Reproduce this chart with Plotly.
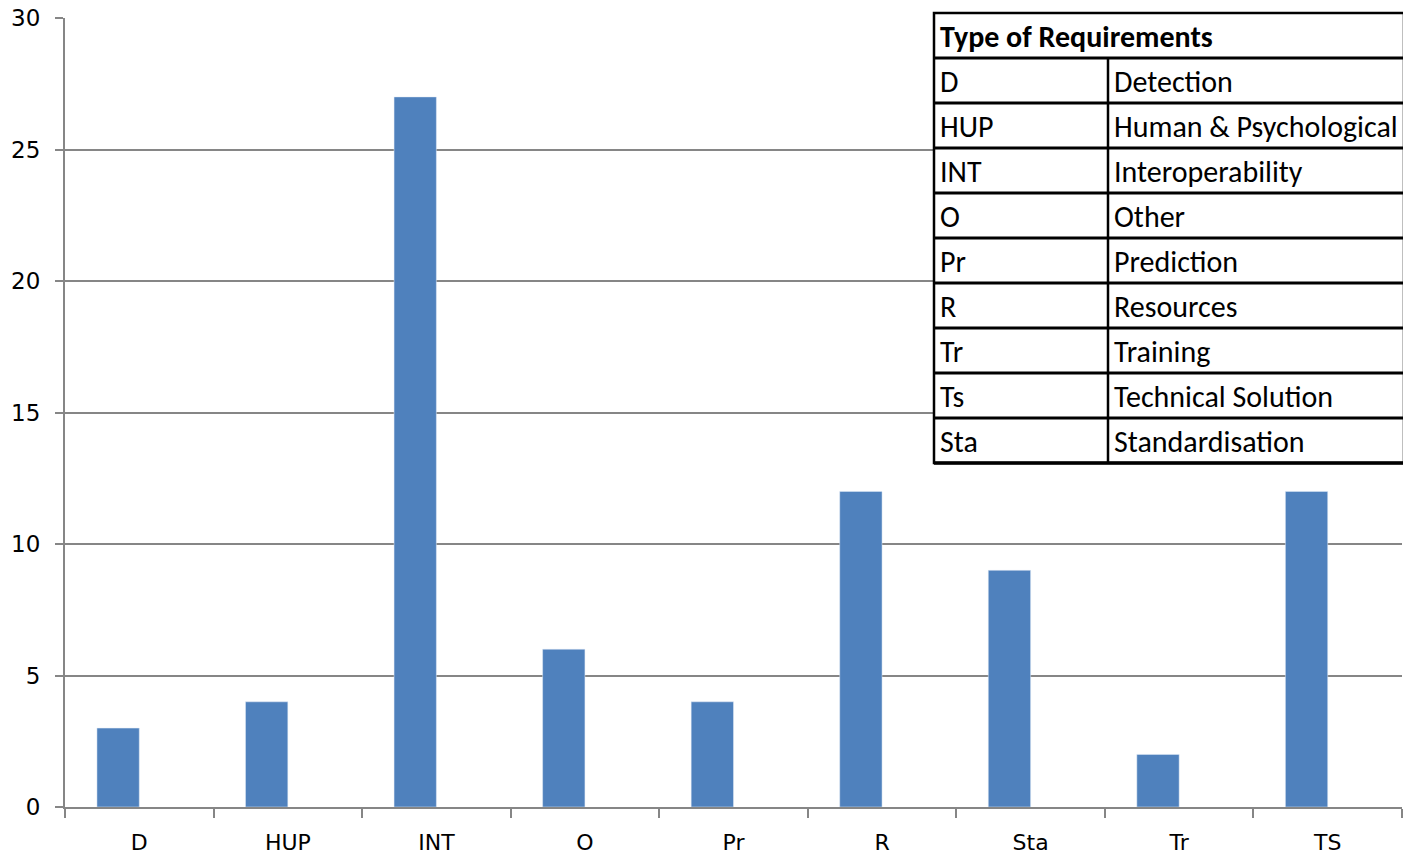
import plotly.graph_objects as go

categories = ["D", "HUP", "INT", "O", "Pr", "R", "Sta", "Tr", "TS"]
counts = [3, 4, 27, 6, 4, 12, 9, 2, 12]
empty_series = [None] * len(categories)

table_title = "Type of Requirements"
table_codes = ["D", "HUP", "INT", "O", "Pr", "R", "Tr", "Ts", "Sta"]
table_names = ["Detection", "Human & Psychological", "Interoperability", "Other",
               "Prediction", "Resources", "Training", "Technical Solution", "Standardisation"]

W, H = 1403, 854
L, R, T, B = 65, 1402, 18, 807
pw, ph = R - L, B - T


def px(x):
    return (x - L) / pw


def py(y):
    return (B - y) / ph


fig = go.Figure()
fig.add_trace(go.Bar(x=categories, y=counts, marker_color="#4F81BD", showlegend=False,
                     hoverinfo="x+y"))
fig.add_trace(go.Bar(x=categories, y=empty_series, marker_color="#C0504D", showlegend=False))

fig.update_layout(
    width=W, height=H,
    margin=dict(l=L, r=W - R, t=T, b=H - B, pad=0, autoexpand=False),
    paper_bgcolor="white", plot_bgcolor="white",
    barmode="group", bargap=0.43, bargroupgap=0,
    font=dict(family="DejaVu Sans", size=20, color="black"),
)
fig.update_xaxes(type="category", showline=True, linecolor="#868686", linewidth=2,
                 ticks="outside", tickson="boundaries", ticklen=9, tickcolor="#868686",
                 tickwidth=2, showgrid=False, tickfont=dict(size=22), ticklabelstandoff=15,
                 automargin=False)
fig.update_yaxes(range=[0, 30], dtick=5, showline=True, linecolor="#868686", linewidth=2,
                 ticks="outside", ticklen=8, tickcolor="#868686", tickwidth=2,
                 showgrid=True, gridcolor="#868686", gridwidth=1.5, zeroline=False,
                 tickfont=dict(size=23), ticklabelstandoff=10, automargin=False)

# table
tl, tr, tt = 934, 1404, 13
row_h = 45
ncols_x = 1108
nrows = len(table_codes) + 1
tb = tt + row_h * nrows
shapes = []
shapes.append(dict(type="rect", xref="paper", yref="paper", x0=px(tl), x1=px(tr),
                   y0=py(tb), y1=py(tt), fillcolor="white", line=dict(color="black", width=2.5),
                   layer="above"))
for i in range(1, nrows):
    y = tt + row_h * i
    shapes.append(dict(type="line", xref="paper", yref="paper", x0=px(tl), x1=px(tr),
                       y0=py(y), y1=py(y), line=dict(color="black", width=3), layer="above"))
shapes.append(dict(type="line", xref="paper", yref="paper", x0=px(ncols_x), x1=px(ncols_x),
                   y0=py(tb), y1=py(tt + row_h), line=dict(color="black", width=2.5), layer="above"))
shapes.append(dict(type="line", xref="paper", yref="paper", x0=px(tl), x1=px(tr),
                   y0=py(tb), y1=py(tb), line=dict(color="black", width=3.5), layer="above"))
fig.update_layout(shapes=shapes)

tfont = "Carlito, Lato, sans-serif"
fs = 30
anns = [dict(xref="paper", yref="paper", x=px(tl + 4), y=py(tt + row_h / 2 + 1),
             text="<b>" + table_title + "</b>", showarrow=False, xanchor="left", yanchor="middle",
             font=dict(family=tfont, size=fs, color="black"))]
for i, (c, n) in enumerate(zip(table_codes, table_names)):
    yc = tt + row_h * (i + 1) + row_h / 2 + 1
    anns.append(dict(xref="paper", yref="paper", x=px(tl + 4), y=py(yc), text=c,
                     showarrow=False, xanchor="left", yanchor="middle",
                     font=dict(family=tfont, size=fs, color="black")))
    anns.append(dict(xref="paper", yref="paper", x=px(ncols_x + 4), y=py(yc), text=n,
                     showarrow=False, xanchor="left", yanchor="middle",
                     font=dict(family=tfont, size=fs, color="black")))
fig.update_layout(annotations=anns)

fig.write_html("out.html", config={"displayModeBar": False},
               post_script="document.body.style.margin='0';document.body.style.overflow='hidden';")
